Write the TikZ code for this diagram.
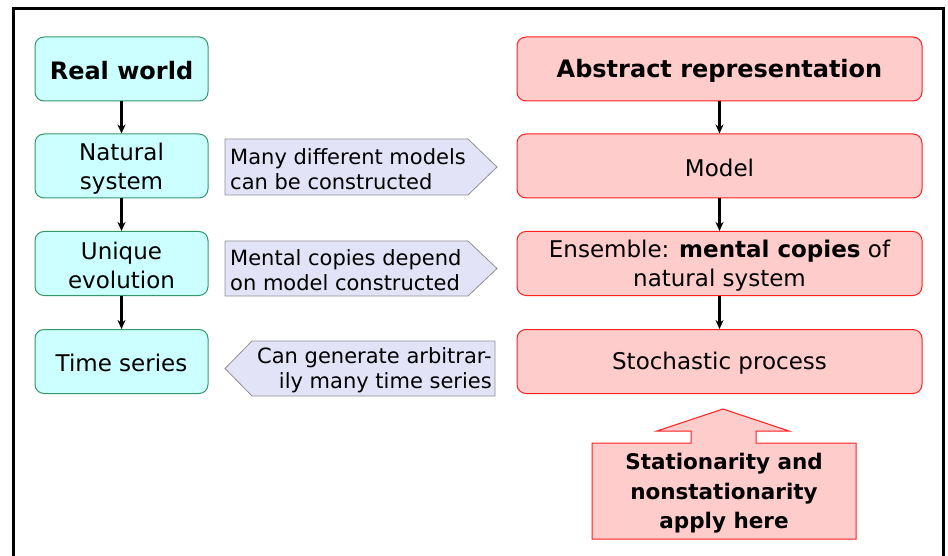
\documentclass[tikz,border=0pt]{standalone}
\usepackage{fontspec}
\setmainfont{DejaVu Sans}
\usetikzlibrary{arrows.meta}
\definecolor{lcyan}{HTML}{CCFFFF}
\definecolor{lgreen}{HTML}{339966}
\definecolor{lpink}{HTML}{FFCCCC}
\definecolor{lred}{HTML}{FF2020}
\definecolor{lav}{HTML}{E3E3F8}
\definecolor{lgray}{HTML}{909090}
\tikzset{
  realbox/.style={draw=lgreen, fill=lcyan, line width=1pt, rounded corners=9pt,
    minimum width=173pt, minimum height=64pt, inner sep=0pt},
  absbox/.style={draw=lred, fill=lpink, line width=1pt, rounded corners=9pt,
    minimum width=405pt, minimum height=64pt, inner sep=0pt},
  boxtext/.style={align=center, inner sep=0pt, font=\fontsize{23}{29}\selectfont},
  boldtext/.style={align=center, inner sep=0pt, font=\fontsize{24}{29}\selectfont\bfseries},
  callout/.style={draw=lgray, fill=lav, line width=0.8pt},
  calltext/.style={align=left, inner sep=0pt, font=\fontsize{21}{25}\selectfont},
  flow/.style={-{Stealth[length=9pt,width=8pt]}, line width=2.6pt},
  frame/.style={line width=3pt, black}
}
\begin{document}
\begin{tikzpicture}[x=1pt,y=-1pt]
\useasboundingbox (0,0) rectangle (948,556);
% frame
\draw[frame] (13,570) -- (13,9) -- (943,9) -- (943,570);
% left column
\node[realbox] (rw) at (121.5,69) {};
\node[realbox] (ns) at (121.5,166) {};
\node[realbox] (ue) at (121.5,263.5) {};
\node[realbox] (ts) at (121.5,361.5) {};
\node[boldtext] (rwt) at ([yshift=-1.5pt]rw.center) {Real world};
\node[boxtext] (nst) at ([yshift=-2.5pt]ns.center) {Natural\\system};
\node[boxtext] (uet) at ([yshift=-2pt]ue.center) {Unique\\evolution};
\node[boxtext] (tst) at ([yshift=-1.5pt]ts.center) {Time series};
\draw[flow] (rw) -- (ns);
\draw[flow] (ns) -- (ue);
\draw[flow] (ue) -- (ts);
% right column
\node[absbox] (ar) at (719.5,69) {};
\node[absbox] (md) at (719.5,166) {};
\node[absbox] (en) at (719.5,263.5) {};
\node[absbox] (sp) at (719.5,361.5) {};
\node[boldtext] (art) at ([yshift=-1.5pt]ar.center) {Abstract representation};
\node[boxtext] (mdt) at ([yshift=-1.5pt]md.center) {Model};
\node[boxtext] (ent) at ([yshift=-2.5pt]en.center) {Ensemble: \textbf{mental copies} of\\natural system};
\node[boxtext] (spt) at ([yshift=-2pt]sp.center) {Stochastic process};
\draw[flow] (ar) -- (md);
\draw[flow] (md) -- (en);
\draw[flow] (en) -- (sp);
% callouts
\draw[callout] (225,139) -- (468,139) -- (497,167) -- (468,195) -- (225,195) -- cycle;
\node[calltext, anchor=west] (c1) at (230,169) {Many different models\\can be constructed};
\draw[callout] (225,241) -- (468,241) -- (497,268.5) -- (468,296) -- (225,296) -- cycle;
\node[calltext, anchor=west] (c2) at (230,270.5) {Mental copies depend\\on model constructed};
\draw[callout] (225,368.5) -- (252,341) -- (495,341) -- (495,396) -- (252,396) -- cycle;
\node[calltext, anchor=east, align=right] (c3) at (492,370.5) {Can generate arbitrar-\\ily many time series};
% bottom arrow callout
\draw[draw=lred, fill=lpink, line width=1pt] (723,409) -- (789,431) -- (756,431) -- (756,443) -- (856,443)
  -- (856,539) -- (592,539) -- (592,443) -- (691,443) -- (691,431) -- (657,431) -- cycle;
\node[align=center, inner sep=0pt, font=\fontsize{21.5}{29.5}\selectfont\bfseries] (st) at (724,493.5)
  {Stationarity and\\nonstationarity\\apply here};
\end{tikzpicture}
\end{document}
